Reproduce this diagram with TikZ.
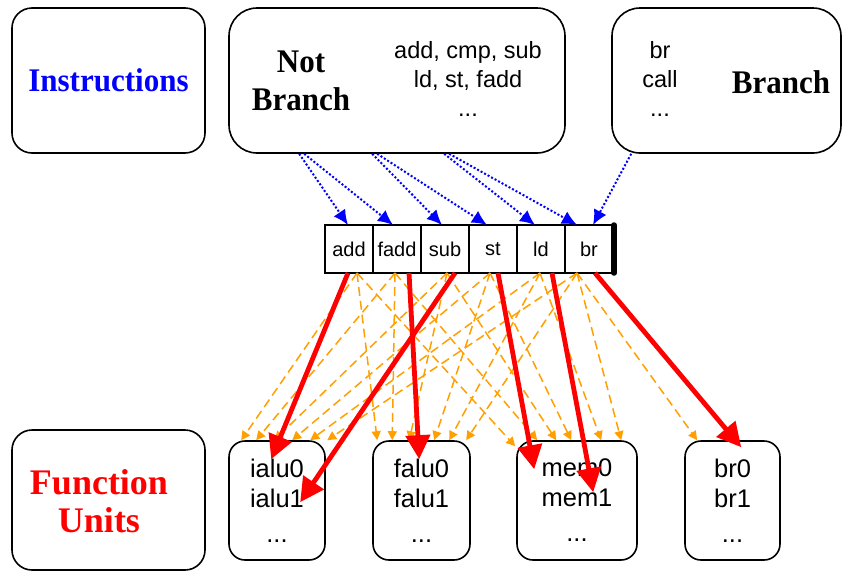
\documentclass[tikz,border=0pt]{standalone}
\usepackage{fontspec}
\setmainfont{Liberation Serif}
\setsansfont{Liberation Sans}
\newfontfamily\headfont[FakeStretch=0.94]{Liberation Serif}
\usetikzlibrary{arrows.meta, positioning}
\definecolor{dispatch_blue}{RGB}{0, 0, 255}
\definecolor{select_red}{RGB}{255, 0, 0}
\definecolor{option_orange}{RGB}{255, 160, 0}

\begin{document}
\begin{tikzpicture}[
    x=1pt, y=-1pt,
    box/.style={draw, line width=1.6pt, rounded corners=#1, inner sep=0pt},
    box/.default=28pt,
    cell/.style={draw, line width=1.6pt, minimum width=48pt, minimum height=48pt,
                 inner sep=0pt, outer sep=0pt, font=\sffamily\fontsize{20}{24}\selectfont},
    fubox/.style={draw, line width=1.6pt, rounded corners=16pt, minimum height=119pt,
                  align=center, inner sep=0pt, font=\sffamily\fontsize{25.5}{30}\selectfont},
    head/.style={align=center, font=\headfont\bfseries\fontsize{33}{38}\selectfont},
    lst/.style={align=center, font=\sffamily\fontsize{23.5}{29}\selectfont},
    disp/.style={-{Latex[length=15pt, width=14pt]}, line width=2pt,
                 dash pattern=on 2pt off 2pt, dispatch_blue},
    cand/.style={-{Triangle[length=9pt, width=9pt]}, line width=1.5pt,
                 dash pattern=on 9pt off 5pt, option_orange},
    pick/.style={-{Triangle[length=24pt, width=24pt]}, line width=4.8pt, select_red},
]
\useasboundingbox (0,0) rectangle (843,571);

% instruction classes
\node[box=20pt, minimum width=193pt, minimum height=145pt] (ins) at (108.5, 80.5) {};
\node[head, dispatch_blue] (insl) at (108.5, 80) {Instructions};
\node[box, minimum width=336pt, minimum height=145pt] (nb) at (397, 80.5) {};
\node[head] (nbl) at (301, 81) {Not\\Branch};
\node[lst]  (nbi) at (468, 79) {add, cmp, sub\\ld, st, fadd\\...};
\node[box, minimum width=229pt, minimum height=145pt] (bb) at (726.5, 80.5) {};
\node[lst]  (bbi) at (660, 79) {br\\call\\...};
\node[head] (bbl) at (781, 82) {Branch};

% issue queue
\node[cell] (add) at (349, 249) {add};
\node[cell, right=0pt of add]  (fadd) {fadd};
\node[cell, right=0pt of fadd] (sub)  {sub};
\node[cell, right=0pt of sub]  (st)   {st};
\node[cell, right=0pt of st]   (ld)   {ld};
\node[cell, right=0pt of ld]   (brq)  {br};
\draw[line width=5.5pt, line cap=round] ([xshift=1pt]brq.north east) -- ([xshift=1pt]brq.south east);

% function units
\node[box=20pt, minimum width=193pt, minimum height=140pt] (fu) at (108.5, 500) {};
\node[head, select_red, font=\bfseries\fontsize{36}{38}\selectfont] (ful) at (99, 501) {Function\\Units};
\node[fubox, minimum width=96pt]  (ialu) at (277, 500.5)   {ialu0\\ialu1\\[5pt]...};
\node[fubox, minimum width=97pt]  (falu) at (421.5, 500.5) {falu0\\falu1\\[5pt]...};
\node[fubox, minimum width=120pt] (mem)  at (577, 500.5)   {mem0\\mem1\\[5pt]...};
\node[fubox, minimum width=95pt]  (brfu) at (732.5, 500.5) {br0\\br1\\[5pt]...};

% dispatch into the queue
\draw[disp] ([xshift=71pt]nb.south west)  -- ([xshift=-1pt]add.north);
\draw[disp] ([xshift=76pt]nb.south west)  -- ([xshift=-4pt]fadd.north);
\draw[disp] ([xshift=144pt]nb.south west) -- ([xshift=-3pt]sub.north);
\draw[disp] ([xshift=149pt]nb.south west) -- ([xshift=-6pt]st.north);
\draw[disp] ([xshift=216pt]nb.south west) -- ([xshift=-6pt]ld.north);
\draw[disp] ([xshift=221pt]nb.south west) -- ([xshift=-12pt]brq.north);
\draw[disp] ([xshift=20pt]bb.south west)  -- ([xshift=4pt]brq.north);

% candidate units for every queue entry
\foreach \c/\dx in {add/8, fadd/-2, sub/2, st/-3, ld/-1, brq/-12}
  \coordinate (\c-o) at ([xshift=\dx pt]\c.south);
\foreach \dx [count=\i] in {13, 28, 46, 64, 82, 99}
  \coordinate (ia\i) at ([xshift=\dx pt]ialu.north west);
\foreach \dx [count=\i] in {5, 20, 37, 62, 77, 94}
  \coordinate (fa\i) at ([xshift=\dx pt]falu.north west);
\foreach \dx/\dy [count=\i] in {-1/-6, 21/0, 40/0, 55/0, 85/0, 105/0}
  \coordinate (me\i) at ([xshift=\dx pt, yshift=\dy pt]mem.north west);
\coordinate (bu1) at ([xshift=13pt]brfu.north west);

\foreach \c [count=\i] in {add, fadd, sub, st, ld, brq}
  \foreach \u in {ia, fa, me}
    \draw[cand] (\c-o) -- (\u\i);
\draw[cand] (brq-o) -- (bu1);

% chosen units
\draw[pick] ([xshift=-1pt]add.south)  -- ([xshift=43pt, yshift=-19pt]ialu.north west);
\draw[pick] ([xshift=12pt]fadd.south) -- ([xshift=47pt, yshift=-19pt]falu.north west);
\draw[pick] ([xshift=10pt]sub.south)  -- ([xshift=72pt, yshift=-62pt]ialu.north west);
\draw[pick] ([xshift=5pt]st.south)    -- ([xshift=18pt, yshift=-29pt]mem.north west);
\draw[pick] ([xshift=11pt]ld.south)   -- ([xshift=77pt, yshift=-52pt]mem.north west);
\draw[pick] ([xshift=6pt]brq.south)   -- ([xshift=57pt, yshift=-7pt]brfu.north west);
\end{tikzpicture}
\end{document}
